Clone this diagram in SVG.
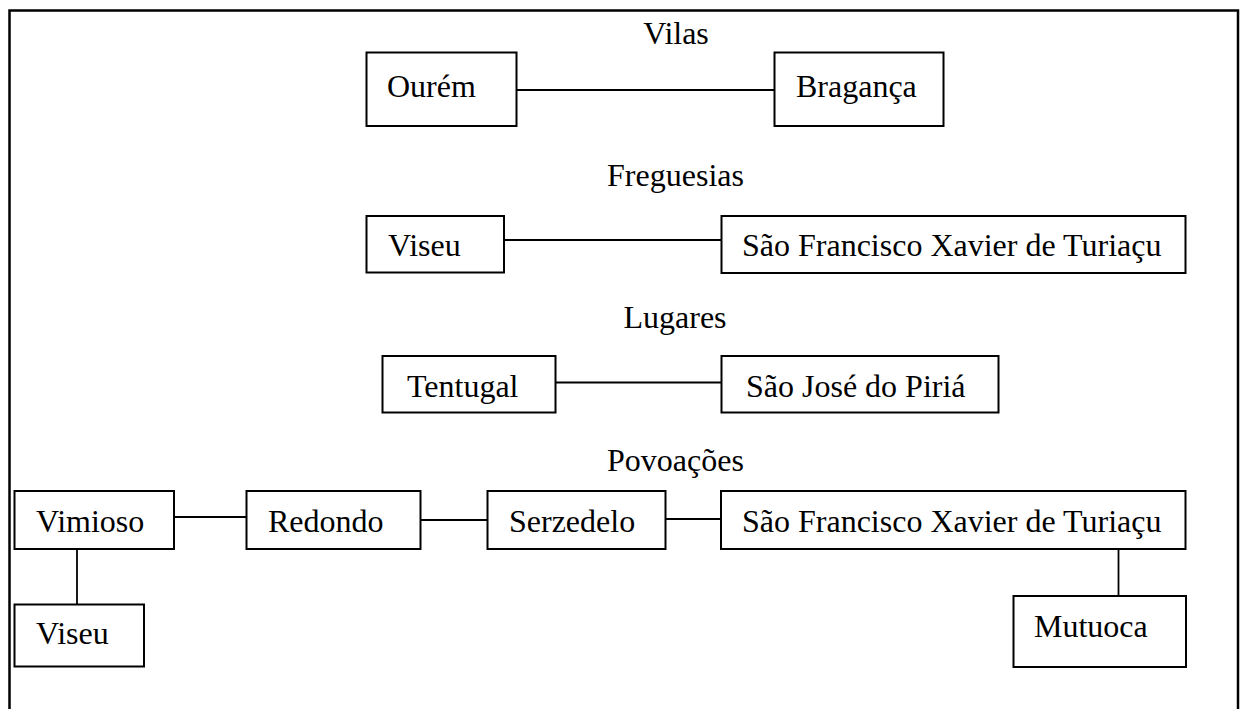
<svg xmlns="http://www.w3.org/2000/svg" width="1250" height="709" viewBox="0 0 1250 709">
<style>
.box{fill:#fff;stroke:#000;stroke-width:2}
.t{font-family:"Liberation Serif","Times New Roman",serif;font-size:32px;fill:#000}
.h{font-family:"Liberation Serif","Times New Roman",serif;font-size:32px;fill:#000;text-anchor:middle}
.c{stroke:#000;stroke-width:1.8;fill:none}
</style>
<rect x="0" y="0" width="1250" height="709" fill="#fff"/>
<rect x="9.5" y="10.5" width="1228.5" height="720" fill="none" stroke="#000" stroke-width="2.5"/>
<g id="headings">
<text class="h" x="676" y="44">Vilas</text>
<text class="h" x="675.5" y="186">Freguesias</text>
<text class="h" x="675" y="328">Lugares</text>
<text class="h" x="675.5" y="471">Povoações</text>
</g>
<g id="connectors">
<line class="c" x1="517" y1="90" x2="774" y2="90"/>
<line class="c" x1="504" y1="240" x2="722" y2="240"/>
<line class="c" x1="556" y1="382.5" x2="722" y2="382.5"/>
<line class="c" x1="174" y1="517" x2="247" y2="517"/>
<line class="c" x1="421" y1="520" x2="488" y2="520"/>
<line class="c" x1="666" y1="519" x2="721" y2="519"/>
<line class="c" x1="77" y1="549" x2="77" y2="604"/>
<line class="c" x1="1118.5" y1="549" x2="1118.5" y2="596"/>
</g>
<g id="n-ourem"><rect class="box" x="366.5" y="52.5" width="150" height="73.5"/><text class="t" x="387" y="97">Ourém</text></g>
<g id="n-braganca"><rect class="box" x="774.5" y="52.5" width="169" height="73.5"/><text class="t" x="796" y="97">Bragança</text></g>
<g id="n-viseu1"><rect class="box" x="366.5" y="216" width="137.5" height="56.5"/><text class="t" x="388" y="256">Viseu</text></g>
<g id="n-sfxt1"><rect class="box" x="721.5" y="216" width="464" height="57"/><text class="t" x="742" y="256">São Francisco Xavier de Turiaçu</text></g>
<g id="n-tentugal"><rect class="box" x="382.5" y="356" width="173" height="56.5"/><text class="t" x="407" y="397">Tentugal</text></g>
<g id="n-saojose"><rect class="box" x="721.5" y="356" width="277" height="56.5"/><text class="t" x="746" y="397">São José do Piriá</text></g>
<g id="n-vimioso"><rect class="box" x="14.5" y="491" width="159.5" height="58"/><text class="t" x="36" y="532">Vimioso</text></g>
<g id="n-redondo"><rect class="box" x="246.5" y="491" width="174" height="58"/><text class="t" x="268" y="532">Redondo</text></g>
<g id="n-serzedelo"><rect class="box" x="487.5" y="491" width="178" height="58"/><text class="t" x="509" y="532">Serzedelo</text></g>
<g id="n-sfxt2"><rect class="box" x="721" y="491" width="464.5" height="58"/><text class="t" x="742" y="532">São Francisco Xavier de Turiaçu</text></g>
<g id="n-viseu2"><rect class="box" x="14.5" y="604.5" width="129.5" height="62"/><text class="t" x="36" y="644">Viseu</text></g>
<g id="n-mutuoca"><rect class="box" x="1013.5" y="596" width="172.5" height="71"/><text class="t" x="1034" y="637">Mutuoca</text></g>
</svg>
